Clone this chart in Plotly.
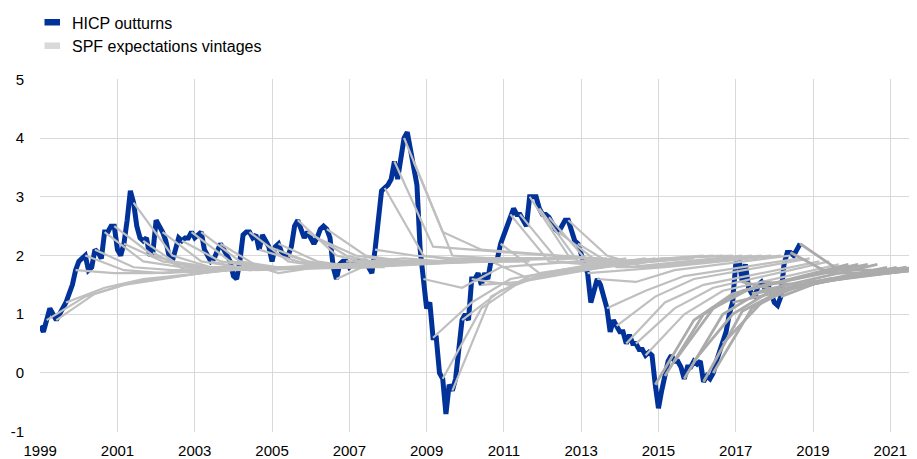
import plotly.graph_objects as go

# ---------------- data ----------------
# Euro area HICP outturns, monthly from Jan 1999 (annual % change)
hicp_1999 = [0.8, 0.7, 0.9, 1.1, 1.0, 0.9, 1.0, 1.1, 1.2, 1.35, 1.5, 1.75]
hicp_2000 = [1.9, 1.95, 2.0, 1.75, 1.8, 2.1, 2.05, 1.95, 2.4, 2.4, 2.5, 2.5]
hicp_2001 = [2.1, 2.0, 2.2, 2.6, 3.1, 2.9, 2.5, 2.3, 2.25, 2.3, 2.0, 2.05]
hicp_2002 = [2.6, 2.5, 2.4, 2.25, 2.0, 1.9, 2.1, 2.3, 2.25, 2.3, 2.3, 2.4]
hicp_2003 = [2.3, 2.35, 2.4, 2.1, 2.0, 1.9, 1.95, 2.1, 2.2, 2.1, 2.0, 1.9]
hicp_2004 = [1.65, 1.6, 1.9, 2.35, 2.4, 2.4, 2.3, 2.35, 2.1, 2.35, 2.25, 2.15]
hicp_2005 = [1.9, 2.15, 2.2, 2.05, 2.0, 2.0, 2.15, 2.5, 2.6, 2.45, 2.3, 2.4]
hicp_2006 = [2.3, 2.2, 2.3, 2.45, 2.5, 2.45, 2.3, 1.8, 1.6, 1.85, 1.9, 1.9]
hicp_2007 = [1.8, 1.85, 1.9, 1.9, 1.9, 1.9, 1.8, 1.7, 2.1, 2.6, 3.1, 3.15]
hicp_2008 = [3.2, 3.3, 3.6, 3.3, 3.7, 4.0, 4.1, 3.8, 3.6, 3.2, 2.1, 1.6]
hicp_2009 = [1.1, 1.2, 0.6, 0.6, 0.0, -0.1, -0.7, -0.2, -0.3, -0.1, 0.5, 0.9]
hicp_2010 = [1.0, 0.9, 1.6, 1.6, 1.7, 1.5, 1.7, 1.6, 1.9, 1.9, 1.95, 2.2]
hicp_2011 = [2.35, 2.5, 2.7, 2.8, 2.7, 2.7, 2.6, 2.5, 3.0, 3.0, 3.0, 2.8]
hicp_2012 = [2.7, 2.7, 2.65, 2.55, 2.45, 2.4, 2.5, 2.6, 2.6, 2.45, 2.25, 2.2]
hicp_2013 = [2.0, 1.85, 1.7, 1.2, 1.4, 1.6, 1.5, 1.3, 1.1, 0.7, 0.9, 0.8]
hicp_2014 = [0.7, 0.7, 0.5, 0.65, 0.5, 0.5, 0.4, 0.4, 0.3, 0.35, 0.3, -0.2]
hicp_2015 = [-0.6, -0.3, -0.05, 0.2, 0.3, 0.2, 0.2, 0.1, -0.1, 0.1, 0.1, 0.2]
hicp_2016 = [0.15, 0.2, -0.15, -0.05, -0.1, 0.0, 0.2, 0.35, 0.5, 0.7, 1.0, 1.2]
hicp_2017 = [1.85, 1.95, 1.55, 1.85, 1.45, 1.35, 1.3, 1.5, 1.55, 1.45, 1.5, 1.35]
hicp_2018 = [1.2, 1.15, 1.3, 1.85, 2.05, 2.05, 2.0, 2.1, 2.2]

hicp = (hicp_1999 + hicp_2000 + hicp_2001 + hicp_2002 + hicp_2003 + hicp_2004
        + hicp_2005 + hicp_2006 + hicp_2007 + hicp_2008 + hicp_2009 + hicp_2010
        + hicp_2011 + hicp_2012 + hicp_2013 + hicp_2014 + hicp_2015 + hicp_2016
        + hicp_2017 + hicp_2018)

# SPF vintages: index (month since Jan 1999) of latest outturn known at each round
spf_origin = list(range(2, 237, 3))
# one-year-ahead, two-year-ahead and longer-term (five-year-ahead) expectations
spf_1y = [1.3, 1.35, 1.45, 1.7, 1.75, 1.8, 1.9, 2.0, 1.9, 2.0, 1.8, 1.7,
          1.9, 1.8, 1.9, 1.9, 1.9, 1.75, 1.8, 1.8, 1.7, 1.9, 1.9, 1.9,
          1.9, 1.8, 2.0, 2.0, 2.0, 2.0, 1.9, 1.9, 1.9, 1.95, 2.0, 2.0,
          2.15, 2.4, 2.0, 1.45, 1.2, 1.1, 1.3, 1.4, 1.5, 1.55, 1.6, 1.7,
          1.9, 1.9, 2.0, 1.9, 1.9, 1.9, 2.0, 1.8, 1.75, 1.55, 1.4, 1.3,
          1.2, 1.1, 1.0, 0.9, 1.0, 1.1, 1.0, 1.0, 1.05, 1.1, 1.2, 1.35,
          1.4, 1.45, 1.5, 1.5, 1.55, 1.7, 1.75]
spf_2y = [1.5, 1.55, 1.6, 1.7, 1.7, 1.75, 1.8, 1.8, 1.8, 1.8, 1.75, 1.75,
          1.8, 1.75, 1.8, 1.8, 1.8, 1.8, 1.8, 1.8, 1.8, 1.8, 1.8, 1.8,
          1.8, 1.8, 1.85, 1.85, 1.9, 1.9, 1.9, 1.9, 1.9, 1.9, 1.95, 1.9,
          2.1, 2.1, 1.95, 1.8, 1.6, 1.55, 1.65, 1.65, 1.7, 1.7, 1.75, 1.8,
          1.85, 1.85, 1.9, 1.9, 1.8, 1.8, 1.8, 1.8, 1.8, 1.75, 1.65, 1.6,
          1.5, 1.45, 1.4, 1.35, 1.4, 1.45, 1.4, 1.4, 1.4, 1.45, 1.5, 1.55,
          1.55, 1.6, 1.6, 1.65, 1.65, 1.7, 1.75]
spf_5y = [1.8, 1.8, 1.8, 1.8, 1.8, 1.8, 1.8, 1.8, 1.8, 1.8, 1.8, 1.8,
          1.8, 1.8, 1.8, 1.8, 1.9, 1.9, 1.9, 1.9, 1.9, 1.9, 1.9, 1.9,
          1.9, 1.9, 1.9, 1.9, 1.9, 1.9, 1.9, 1.95, 1.95, 1.95, 1.95, 1.95,
          1.95, 1.95, 1.95, 1.95, 1.95, 1.9, 1.95, 1.95, 1.95, 1.95, 1.95, 1.95,
          2.0, 2.0, 2.0, 2.0, 2.0, 2.0, 2.0, 2.0, 2.0, 2.0, 1.95, 1.95,
          1.9, 1.9, 1.85, 1.85, 1.85, 1.85, 1.85, 1.8, 1.8, 1.8, 1.8, 1.8,
          1.8, 1.8, 1.85, 1.85, 1.85, 1.9, 1.9]
spf_horizons = [0, 12, 24, 60]  # months after the latest outturn

x_ticks = list(range(1999, 2022, 2))
y_ticks = [-1, 0, 1, 2, 3, 4, 5]

BLUE = "#003299"
GREY = "#BFBFBF"
GREY_DARK = "#ABABAB"

# ---------------- figure ----------------
def month_to_year(m):
    return 1999 + m / 12.0

fig = go.Figure()

fig.add_trace(go.Scatter(
    x=[month_to_year(m) for m in range(len(hicp))], y=hicp,
    mode="lines", line=dict(color=BLUE, width=5), name="HICP outturns",
    showlegend=False, hoverinfo="skip"))

for i, t in enumerate(spf_origin):
    xs = [month_to_year(t + h) for h in spf_horizons]
    ys = [hicp[t], spf_1y[i], spf_2y[i], spf_5y[i]]
    late = t >= 190
    fig.add_trace(go.Scatter(
        x=xs, y=ys, mode="lines",
        line=dict(color=GREY_DARK if late else GREY, width=2.8 if late else 2.2),
        showlegend=False, hoverinfo="skip"))

# page body has an 8px margin: the figure is sized/offset to compensate
OFF = 8
L, R, T, B = 32, 0, 71, 27
W, H = 909, 451
pw, ph = W - L - R, H - T - B

def px(xp):          # page pixel -> paper x
    return (xp - OFF - L) / pw

def py(yp):          # page pixel -> paper y
    return (H - B - (yp - OFF)) / ph

# manual legend
shapes = [
    dict(type="rect", xref="paper", yref="paper", x0=px(44.5), x1=px(60), y0=py(25.5), y1=py(19),
         fillcolor=BLUE, line=dict(width=0)),
    dict(type="rect", xref="paper", yref="paper", x0=px(44.5), x1=px(60), y0=py(49), y1=py(42.5),
         fillcolor="#D9D9D9", line=dict(width=0)),
]
annotations = [
    dict(xref="paper", yref="paper", x=px(70), y=py(23.5), xanchor="left", yanchor="middle",
         text="HICP outturns", showarrow=False, font=dict(size=16, color="#000000")),
    dict(xref="paper", yref="paper", x=px(70), y=py(46), xanchor="left", yanchor="middle",
         text="SPF expectations vintages", showarrow=False, font=dict(size=16, color="#000000")),
]

fig.update_layout(
    template="none",
    width=W, height=H,
    margin=dict(l=L, r=R, t=T, b=B, pad=0),
    paper_bgcolor="white", plot_bgcolor="white",
    font=dict(family="Liberation Sans, Arial, sans-serif", color="#000000"),
    showlegend=False,
    shapes=shapes, annotations=annotations,
    xaxis=dict(range=[1998.995, 1999 + (917 - 40) / 38.65], tickmode="array", tickvals=x_ticks,
               ticktext=[str(v) for v in x_ticks], showgrid=True, gridcolor="#D9D9D9",
               gridwidth=1, zeroline=False, showline=False, automargin=False,
               ticks="outside", ticklen=5, tickcolor="rgba(0,0,0,0)",
               tickfont=dict(size=15)),
    yaxis=dict(range=[-1.005, 5.005], tickmode="array", tickvals=y_ticks,
               ticktext=[str(v) for v in y_ticks], showgrid=True, gridcolor="#D9D9D9",
               gridwidth=1, zeroline=False, showline=False, automargin=False,
               ticks="outside", ticklen=12, tickcolor="rgba(0,0,0,0)",
               tickfont=dict(size=15)),
)

fig.write_html("out.html")
